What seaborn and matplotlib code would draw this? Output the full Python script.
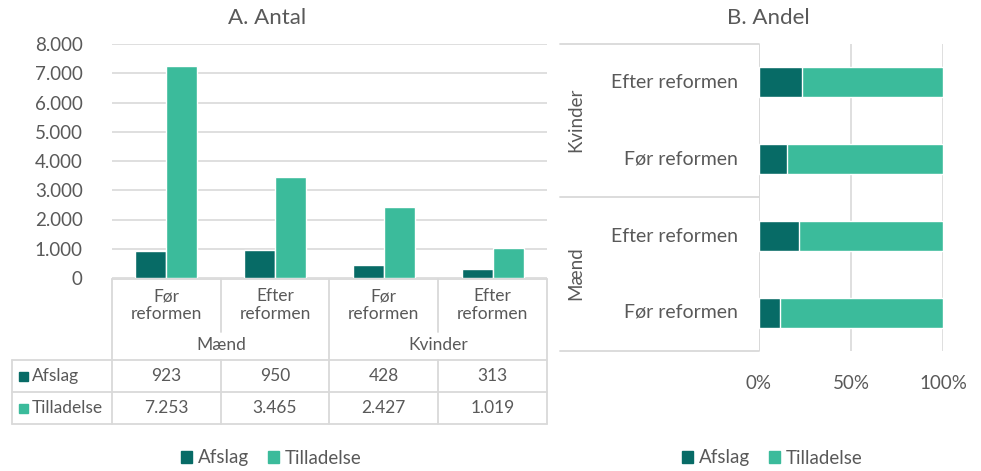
import pandas as pd
import numpy as np
import matplotlib
matplotlib.use("Agg")
import matplotlib.pyplot as plt
import matplotlib.patches as mpatches
import seaborn as sns

# data
groups = ["Mænd", "Mænd", "Kvinder", "Kvinder"]
periods = ["Før reformen", "Efter reformen", "Før reformen", "Efter reformen"]
afslag = [923, 950, 428, 313]
tilladelse = [7253, 3465, 2427, 1019]
series = ["Afslag", "Tilladelse"]
yticks = [0, 1000, 2000, 3000, 4000, 5000, 6000, 7000, 8000]

dark = "#076B66"
light = "#3BBB9B"
grid_c = "#D9D9D9"
txt = "#595959"

sns.set_theme(style="white")
plt.rcParams['font.family'] = ['Lato', 'DejaVu Sans']
plt.rcParams['text.color'] = txt

W, H = 981, 471
fig = plt.figure(figsize=(W / 100, H / 100), dpi=100)

def fx(px):
    return px / W

def fy(py):
    return 1 - py / H

def pax(l, t, r, b):
    return fig.add_axes([fx(l), fy(b), fx(r) - fx(l), fy(t) - fy(b)])

fs = 13.5
fs_tab = 12.5
fs_title = 16

def num(v):
    return f"{v:,}".replace(",", ".")

# ---- A. Antal ----
ax1 = pax(112, 44, 547, 278)
long = pd.DataFrame({
    "cat": list(range(4)) * 2,
    "serie": ["Afslag"] * 4 + ["Tilladelse"] * 4,
    "val": afslag + tilladelse,
})
sns.barplot(data=long, x="cat", y="val", hue="serie", palette=[dark, light],
            width=0.57, ax=ax1, legend=False, saturation=1)
ax1.set_xlim(-0.5, 3.5)
ax1.set_ylim(0, 8000)
ax1.set_yticks(yticks)
ax1.set_yticklabels([num(v) for v in yticks], fontsize=fs, color=txt)
ax1.tick_params(axis="y", length=0, pad=21)
ax1.set_xticks([])
ax1.set_xlabel("")
ax1.set_ylabel("")
ax1.grid(axis="y", color=grid_c, linewidth=1.2)
ax1.set_axisbelow(True)
for s in ax1.spines.values():
    s.set_visible(False)
fig.text(fx(267), fy(18), "A. Antal", ha="center", va="center", fontsize=fs_title, color=txt)

# table under chart A
def hline(y, x0, x1):
    fig.add_artist(plt.Line2D([fx(x0), fx(x1)], [fy(y), fy(y)], color=grid_c, lw=1.3))

def vline(x, y0, y1):
    fig.add_artist(plt.Line2D([fx(x), fx(x)], [fy(y0), fy(y1)], color=grid_c, lw=1.3))

cols = [112, 221, 329, 438, 547]
hline(279, 112, 547)
for y in [360, 392, 424]:
    hline(y, 12, 547)
vline(12, 360, 424)
for i, x in enumerate(cols):
    if i in (1, 3):
        vline(x, 279, 332)
        vline(x, 360, 424)
    else:
        vline(x, 279, 424)

for i in range(4):
    cx = (cols[i] + cols[i + 1]) / 2
    p = periods[i].split(" ")
    fig.text(fx(cx), fy(305), p[0] + "\n" + p[1], ha="center", va="center",
             fontsize=fs_tab, color=txt, linespacing=1.15)
    fig.text(fx(cx), fy(376), num(afslag[i]), ha="center",
             va="center", fontsize=fs_tab, color=txt)
    fig.text(fx(cx), fy(408), num(tilladelse[i]), ha="center",
             va="center", fontsize=fs_tab, color=txt)
fig.text(fx(221), fy(345), groups[0], ha="center", va="center", fontsize=fs_tab, color=txt)
fig.text(fx(438), fy(345), groups[2], ha="center", va="center", fontsize=fs_tab, color=txt)
for yy, name, c in [(376, series[0], dark), (408, series[1], light)]:
    fig.add_artist(mpatches.Rectangle((fx(19), fy(yy + 5)), fx(9), 9 / H, color=c))
    fig.text(fx(32), fy(yy), name, ha="left", va="center", fontsize=fs_tab, color=txt)

# ---- B. Andel ----
ax2 = pax(759, 44, 943, 351)
order = [3, 2, 1, 0]
share = pd.DataFrame({
    "pos": range(4),
    "afslag": [100 * afslag[i] / (afslag[i] + tilladelse[i]) for i in order],
    "total": [100.0] * 4,
})
sns.barplot(data=share, y="pos", x="total", orient="h", color=light, width=0.39,
            ax=ax2, saturation=1)
sns.barplot(data=share, y="pos", x="afslag", orient="h", color=dark, width=0.39,
            ax=ax2, saturation=1)
ax2.set_xlim(0, 100)
ax2.set_ylim(3.5, -0.5)
ax2.set_xticks([0, 50, 100])
ax2.set_xticklabels(["0%", "50%", "100%"], fontsize=fs, color=txt)
ax2.tick_params(axis="x", length=0, pad=17)
ax2.set_yticks([])
ax2.set_xlabel("")
ax2.set_ylabel("")
ax2.grid(axis="x", color=grid_c, linewidth=1.2)
ax2.set_axisbelow(True)
for s in ax2.spines.values():
    s.set_visible(False)
ax2.axvline(0, color=grid_c, lw=1.3, zorder=0.5)
fig.text(fx(768), fy(18), "B. Andel", ha="center", va="center", fontsize=fs_title, color=txt)

ycent = [82, 159, 236, 312]
for k, i in enumerate(order):
    fig.text(fx(738), fy(ycent[k]), periods[i], ha="right", va="center",
             fontsize=14, color=txt)
hline(44, 560, 759)
hline(197, 560, 759)
hline(351, 560, 759)
fig.text(fx(576), fy(120), groups[2], rotation=90, ha="center", va="center",
         fontsize=fs, color=txt)
fig.text(fx(576), fy(273), groups[0], rotation=90, ha="center", va="center",
         fontsize=fs, color=txt)

# legends
handles = [mpatches.Patch(color=dark, label=series[0]),
           mpatches.Patch(color=light, label=series[1])]
for cx in [271, 772]:
    fig.legend(handles=handles, loc="center", bbox_to_anchor=(fx(cx), fy(458)),
               ncol=2, frameon=False, fontsize=fs, handlelength=0.6,
               handleheight=0.6, handletextpad=0.3, columnspacing=1.0,
               labelcolor=txt, borderpad=0, borderaxespad=0)

fig.savefig("out.png", dpi=100)
